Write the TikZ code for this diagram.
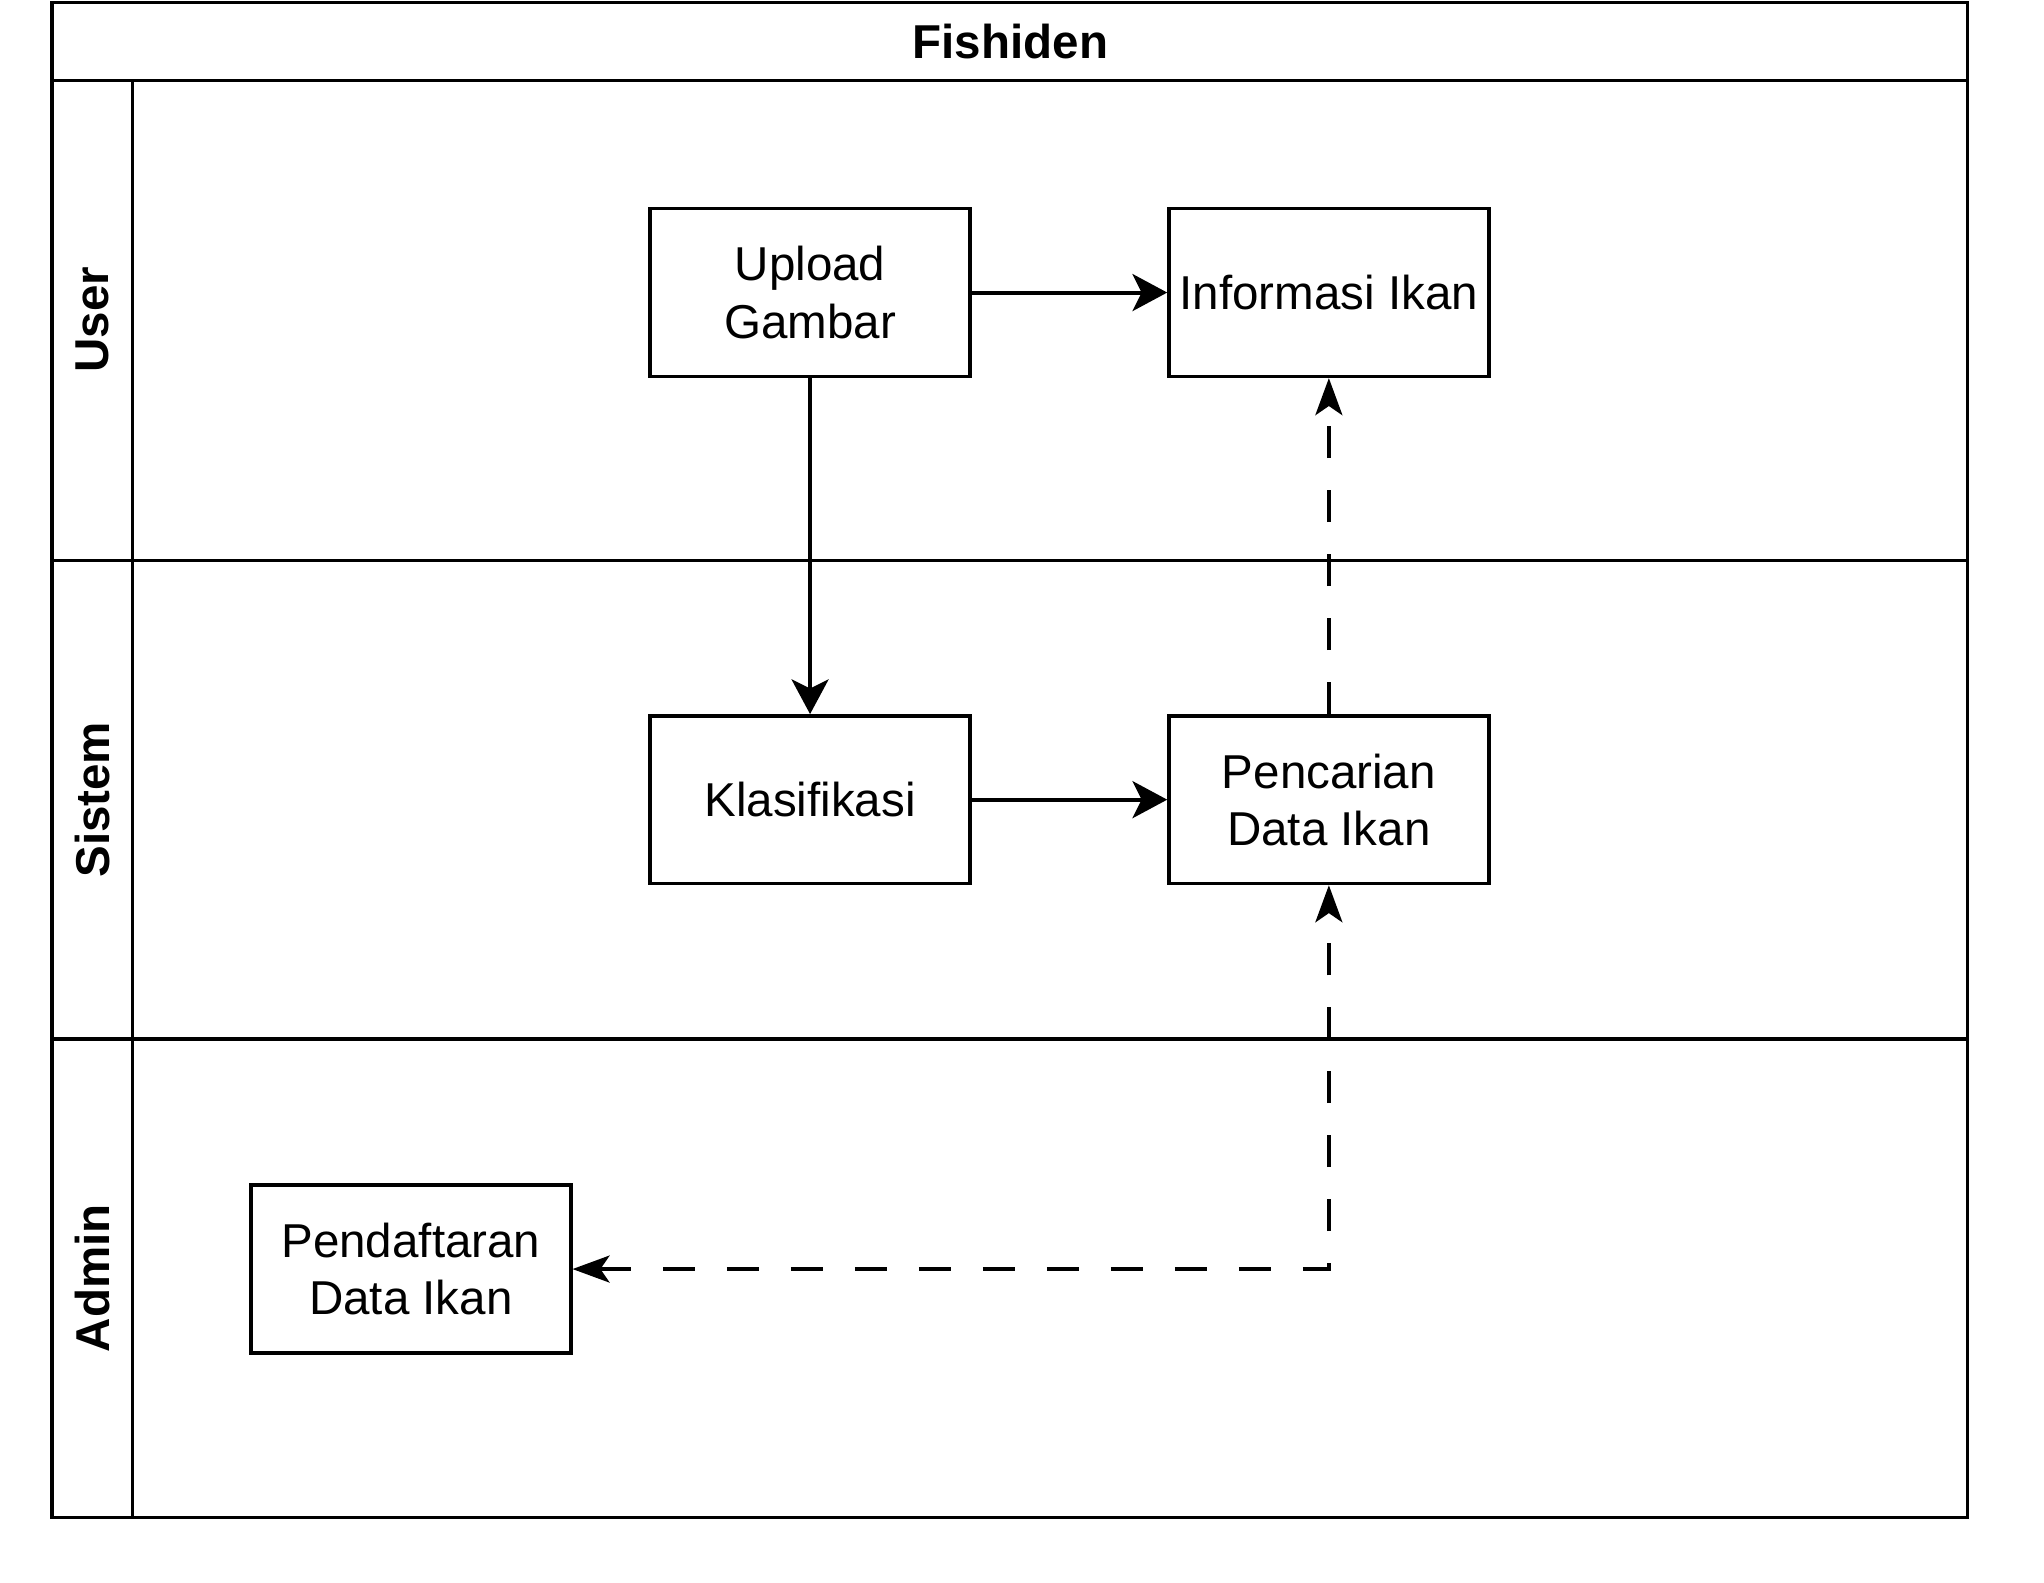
\documentclass[tikz,border=0pt]{standalone}
\usepackage{fontspec}
\setmainfont{Liberation Sans}
\usetikzlibrary{arrows.meta}

\tikzset{
    lane/.style={line width=0.75pt},
    lanelabel/.style={rotate=90, font=\fontsize{10.4}{12.5}\selectfont\bfseries},
    stepbox/.style={draw, line width=0.75pt, minimum width=24.6mm, minimum height=12.9mm, inner sep=0pt, align=center, font=\fontsize{10.4}{12.5}\selectfont},
    flow/.style={line width=0.85pt, -{Stealth[length=7.6pt, width=8.1pt, inset=2pt]}},
    dtip/.tip={Stealth[length=8.1pt, width=5.9pt, inset=2pt]},
    dflow/.style={line width=0.85pt, dash pattern=on 7pt off 7pt, -dtip}
}

\begin{document}
\begin{tikzpicture}[x=0.1mm, y=-0.1mm]
    \useasboundingbox (0,0) rectangle (1572,1217);

    % Pool and lanes
    \draw[lane] (40,2) rectangle (1513,1167);
    \draw[lane] (40,62) -- (1513,62);
    \draw[lane] (40,431) -- (1513,431);
    \draw[lane] (40,799) -- (1513,799);
    \draw[lane] (102,62) -- (102,1167);

    % Title
    \node[font=\fontsize{10.4}{12.5}\selectfont\bfseries] (title) at (777,32) {Fishiden};

    % Lane labels
    \node[lanelabel] (user) at (71,246) {User};
    \node[lanelabel] (sistem) at (71,615) {Sistem};
    \node[lanelabel] (admin) at (71,983) {Admin};

    % Activities
    \node[stepbox] (upload) at (623,225) {Upload\\Gambar};
    \node[stepbox] (info) at (1022,225) {Informasi Ikan};
    \node[stepbox] (klasifikasi) at (623,615) {Klasifikasi};
    \node[stepbox] (pencarian) at (1022,615) {Pencarian\\Data Ikan};
    \node[stepbox] (pendaftaran) at (316,976) {Pendaftaran\\Data Ikan};

    % Flows
    \draw[flow] (upload) -- (info);
    \draw[flow] (upload) -- (klasifikasi);
    \draw[flow] (klasifikasi) -- (pencarian);
    \draw[dflow] (pencarian) -- (info);
    \draw[dflow, dtip-dtip] (pendaftaran.east) -| (pencarian.south);
\end{tikzpicture}
\end{document}
